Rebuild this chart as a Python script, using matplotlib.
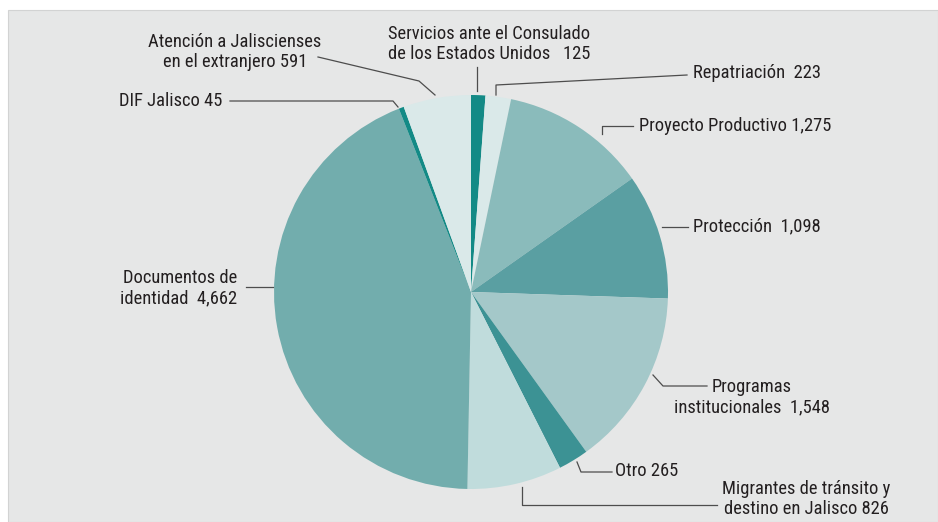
import matplotlib.pyplot as plt
from matplotlib.patches import Rectangle

# data, clockwise from the top
categories = ["Servicios ante el Consulado\nde los Estados Unidos   125", "Repatriación  223",
              "Proyecto Productivo 1,275", "Protección  1,098", "Programas\ninstitucionales  1,548",
              "Otro 265", "Migrantes de tránsito y\ndestino en Jalisco 826", "Documentos de\nidentidad  4,662",
              "DIF Jalisco 45", "Atención a Jaliscienses\nen el extranjero 591"]
values = [125, 223, 1275, 1098, 1548, 265, 826, 4662, 45, 591]
colors = ["#138a86", "#dae9e9", "#8abbbb", "#5a9fa2", "#a4c8c9",
          "#3c9294", "#c0dcdc", "#72adad", "#138a86", "#dae9e9"]

W, H = 938, 522
plt.rcParams['font.family'] = ['Roboto Condensed', 'DejaVu Sans']

fig = plt.figure(figsize=(W / 100, H / 100), dpi=100)
ax = fig.add_axes([0, 0, 1, 1])
ax.add_patch(Rectangle((8, 0), W - 8, H - 10, facecolor="#e6e7e7", edgecolor="#d2d3d3", lw=0.8, zorder=0))

ax.pie(values, colors=colors, startangle=90, counterclock=False, center=(471, H - 292), radius=197,
       wedgeprops=dict(linewidth=0))
ax.set_xlim(0, W)
ax.set_ylim(0, H)
ax.set_aspect("equal")
ax.axis("off")


def y(p):
    return H - p


# (text x, text y, ha, leader points) in pixel coords, y from top
labels = [
    (489, 44, "center", [(477, 67), (477, 91)]),
    (693, 73, "left", [(687, 75), (496, 85), (496, 95)]),
    (639, 126, "left", [(633, 126), (602, 126), (602, 134)]),
    (693, 226, "left", [(688, 227), (662, 227)]),
    (752, 397, "center", [(707, 386), (663, 386), (653, 375)]),
    (615, 471, "left", [(612, 472), (581, 472), (577, 462)]),
    (806, 499, "center", [(717, 505), (522, 505), (522, 487)]),
    (237, 288, "right", [(246, 287), (273, 287)]),
    (222, 101, "right", [(230, 101), (393, 101), (398, 107)]),
    (235, 52, "center", [(318, 57), (419, 81), (435, 95)]),
]

for name, (tx, ty, ha, pts) in zip(categories, labels):
    ax.text(tx, y(ty), name, ha=ha, va="center", fontsize=13.3, color="#231f20", linespacing=1.2)
    ax.plot([p[0] for p in pts], [y(p[1]) for p in pts], color="#4d4d4d", lw=0.9)

fig.savefig("out.png", dpi=100, facecolor="white")
